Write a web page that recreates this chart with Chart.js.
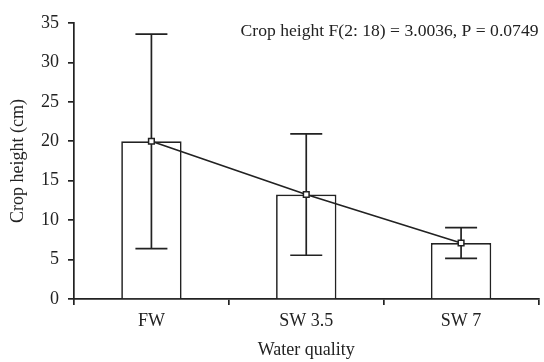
<!DOCTYPE html>
<html>
<head>
<meta charset="utf-8">
<script src="https://cdn.jsdelivr.net/npm/chart.js@4/dist/chart.umd.min.js"></script>
<style>
  html, body { margin: 0; padding: 0; background: #fff; }
  #wrap { width: 544px; height: 362px; }
</style>
</head>
<body>
<div id="wrap"><canvas id="chart" width="544" height="362"></canvas></div>
<script>
// crop height per water quality treatment
var categories = ['FW', 'SW 3.5', 'SW 7'];
var meanHeight = [20, 13.25, 7.1];
var sdHeight = [13.6, 7.7, 1.95];
var yTicks = [0, 5, 10, 15, 20, 25, 30, 35];
var statText = 'Crop height F(2: 18) = 3.0036, P = 0.0749';

var ink = '#222';
var serif = "'Liberation Serif', 'Times New Roman', serif";
var fontSize = 18;

// whiskers drawn right after the bars so the line markers sit on top
var errorBars = {
  id: 'errorBars',
  afterDatasetDraw: function(chart, args) {
    if (args.index !== 0) return;
    var ctx = chart.ctx;
    var xs = chart.scales.x, ys = chart.scales.y;
    ctx.save();
    ctx.strokeStyle = ink;
    ctx.lineWidth = 1.7;
    for (var i = 0; i < meanHeight.length; i++) {
      var x = xs.getPixelForValue(i);
      var top = ys.getPixelForValue(meanHeight[i] + sdHeight[i]);
      var bot = ys.getPixelForValue(meanHeight[i] - sdHeight[i]);
      ctx.beginPath();
      ctx.moveTo(x, top); ctx.lineTo(x, bot);
      ctx.moveTo(x - 16, top); ctx.lineTo(x + 16, top);
      ctx.moveTo(x - 16, bot); ctx.lineTo(x + 16, bot);
      ctx.stroke();
    }
    ctx.restore();
  }
};

var statLabel = {
  id: 'statLabel',
  afterDraw: function(chart) {
    var ctx = chart.ctx;
    ctx.save();
    ctx.font = '17.6px ' + serif;
    ctx.fillStyle = ink;
    ctx.textAlign = 'right';
    ctx.textBaseline = 'alphabetic';
    ctx.fillText(statText, chart.chartArea.right, 36);
    ctx.restore();
  }
};

var ctx = document.getElementById('chart').getContext('2d');
var chart = new Chart(ctx, {
  type: 'bar',
  data: {
    labels: categories,
    datasets: [{
      type: 'bar',
      data: meanHeight,
      backgroundColor: '#fff',
      borderColor: ink,
      borderWidth: 1.7,
      barPercentage: 0.39,
      categoryPercentage: 1,
      order: 2
    }, {
      type: 'line',
      data: meanHeight,
      borderColor: ink,
      borderWidth: 1.7,
      pointStyle: 'rect',
      pointRadius: 4,
      pointBackgroundColor: '#fff',
      pointBorderColor: ink,
      pointBorderWidth: 1.5,
      tension: 0,
      order: 1
    }]
  },
  options: {
    responsive: false,
    animation: false,
    devicePixelRatio: 1,
    layout: { padding: { top: 23, right: 2, bottom: 0, left: 0 } },
    plugins: { legend: { display: false }, tooltip: { enabled: false }, title: { display: false } },
    scales: {
      x: {
        offset: true,
        grid: { display: true, offset: true, drawOnChartArea: false, tickLength: 6, color: ink, lineWidth: 1.7 },
        border: { color: ink, width: 1.7 },
        ticks: { color: ink, font: { family: serif, size: fontSize }, padding: 5 },
        title: { display: true, text: 'Water quality', color: ink, font: { family: serif, size: fontSize }, padding: { top: 0, bottom: 1 } },
        afterFit: function(s) { s.height = 63; }
      },
      y: {
        min: 0, max: 35,
        afterBuildTicks: function(s) { s.ticks = yTicks.map(function(v) { return { value: v }; }); },
        grid: { display: true, drawOnChartArea: false, tickLength: 6, color: ink, lineWidth: 1.7 },
        border: { color: ink, width: 1.7 },
        ticks: { color: ink, font: { family: serif, size: fontSize }, padding: 9 },
        title: { display: true, text: 'Crop height (cm)', color: ink, font: { family: serif, size: fontSize }, padding: { top: 7, bottom: 0 } },
        afterFit: function(s) { s.width = 74; }
      }
    }
  },
  plugins: [errorBars, statLabel]
});
</script>
</body>
</html>
